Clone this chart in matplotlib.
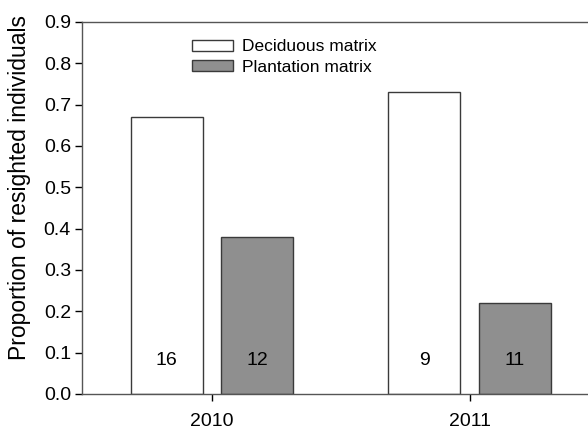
import numpy as np
import matplotlib.pyplot as plt

plt.rcParams['font.family'] = ['Liberation Sans', 'DejaVu Sans']

years = ['2010', '2011']
deciduous = [0.67, 0.73]
plantation = [0.38, 0.22]
n_deciduous = [16, 9]
n_plantation = [12, 11]

x = np.arange(len(years))
w = 0.28
off = 0.176
edge = '#3a3a3a'

fig = plt.figure(figsize=(5.88, 4.30), dpi=100)
ax = fig.add_axes([82 / 588, 36 / 430, 1 - 82 / 588, 372 / 430])

ax.bar(x - off, deciduous, w, color='white', edgecolor=edge, linewidth=1,
       label='Deciduous matrix')
ax.bar(x + off, plantation, w, color='#8f8f8f', edgecolor=edge, linewidth=1,
       label='Plantation matrix')

for i in range(len(years)):
    ax.text(x[i] - off, 0.08, str(n_deciduous[i]), ha='center', va='center', fontsize=14)
    ax.text(x[i] + off, 0.08, str(n_plantation[i]), ha='center', va='center', fontsize=14)

ax.set_xlim(-0.505, 1.46)
ax.set_ylim(0, 0.9)
ax.set_yticks(np.arange(0, 0.91, 0.1))
ax.set_yticklabels([f'{v:.1f}' for v in np.arange(0, 0.91, 0.1)])
ax.set_xticks(x)
ax.set_xticklabels(years)
ax.tick_params(labelsize=14, colors='black', direction='out', length=5, width=1)
ax.tick_params(axis='x', pad=9)
ax.tick_params(axis='y', pad=3)
for s in ['left', 'bottom', 'top']:
    ax.spines[s].set_color('#555555')
    ax.spines[s].set_linewidth(1)
ax.spines['right'].set_visible(False)

ax.set_ylabel('Proportion of resighted individuals', fontsize=16.5)
ax.yaxis.set_label_coords(-0.1, 0.556)

ax.legend(loc='upper left', bbox_to_anchor=(0.186, 0.995), frameon=False,
          fontsize=12.5, handlelength=2.35, handleheight=0.55, handletextpad=0.55,
          labelspacing=0.3)

fig.savefig('out.png', dpi=100)
